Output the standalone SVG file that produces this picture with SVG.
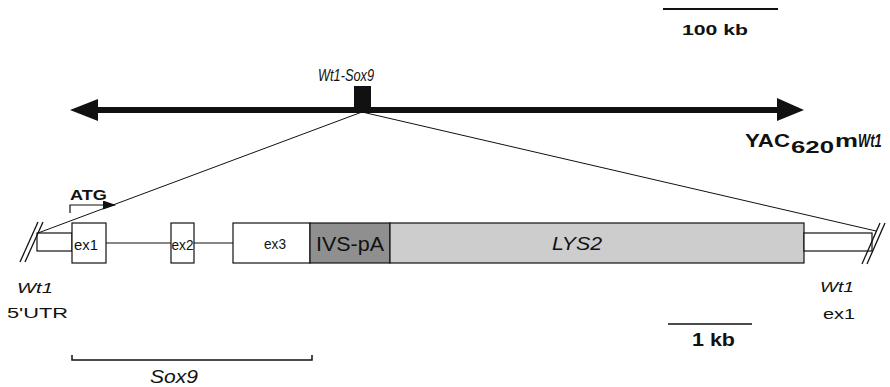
<svg xmlns="http://www.w3.org/2000/svg" width="890" height="387" viewBox="0 0 890 387">
<defs>
<style>
text{font-family:"Liberation Sans",Arial,sans-serif;fill:#111}
.it{font-style:italic}
.b{font-weight:bold}
.ln{stroke:#111;fill:none}
.box{stroke:#111;stroke-width:1.2}
.ex{font-size:15px}
</style>
<marker id="atgHead" markerWidth="13" markerHeight="9" refX="12" refY="4.5" orient="auto" markerUnits="userSpaceOnUse">
<path d="M0,0 L13,4.5 L0,9 Z" fill="#111"/>
</marker>
</defs>
<rect width="890" height="387" fill="#fff"/>

<g id="scale-100kb">
<line class="ln" x1="663" y1="9" x2="778" y2="9" stroke-width="2"/>
<text class="b" x="682" y="35" font-size="15" textLength="66" lengthAdjust="spacingAndGlyphs">100 kb</text>
</g>

<g id="yac">
<line class="ln" x1="96" y1="110" x2="779" y2="110" stroke-width="6"/>
<polygon points="70,110 98,99 98,121" fill="#111"/>
<polygon points="804,110 777,98 777,121" fill="#111"/>
<text class="b" x="745" y="147" font-size="18" textLength="45" lengthAdjust="spacingAndGlyphs">YAC</text>
<text class="b" x="791" y="153" font-size="16" textLength="43" lengthAdjust="spacingAndGlyphs">620</text>
<text class="b" x="835" y="147" font-size="18" textLength="23" lengthAdjust="spacingAndGlyphs">m</text>
<text class="b it" font-size="18" transform="translate(858 147) scale(0.72 1)">Wt1</text>
</g>

<g id="wt1-sox9">
<rect x="354" y="86" width="17" height="25" fill="#111"/>
<text class="it" font-size="16" transform="translate(318 81) scale(0.8 1)">Wt1-Sox9</text>
</g>

<g id="connectors">
<line class="ln" x1="362" y1="112" x2="38" y2="233" stroke-width="1"/>
<line class="ln" x1="362" y1="112" x2="876" y2="231" stroke-width="1"/>
<line class="ln" x1="106" y1="243" x2="171" y2="243" stroke-width="1.2"/>
<line class="ln" x1="194" y1="243" x2="233" y2="243" stroke-width="1.2"/>
<path class="ln" d="M70,213 V205 H115" stroke-width="1.2" marker-end="url(#atgHead)"/>
</g>

<g id="wt1-utr">
<rect class="box" x="37" y="233" width="35" height="18" fill="#fff"/>
<line class="ln" x1="20" y1="262" x2="38" y2="222" stroke-width="1.3"/>
<line class="ln" x1="25" y1="262" x2="43" y2="222" stroke-width="1.3"/>
<text class="it" x="17" y="293" font-size="15" textLength="36" lengthAdjust="spacingAndGlyphs">Wt1</text>
<text x="7" y="318" font-size="15" textLength="61" lengthAdjust="spacingAndGlyphs">5'UTR</text>
</g>

<g id="atg">
<text class="b" x="70" y="200" font-size="14" textLength="37" lengthAdjust="spacingAndGlyphs">ATG</text>
</g>

<g id="ex1">
<rect class="box" x="72" y="223" width="34" height="40" fill="#fff"/>
<text class="ex" x="74" y="250" textLength="24" lengthAdjust="spacingAndGlyphs">ex1</text>
</g>

<g id="ex2">
<rect class="box" x="171" y="223" width="23" height="40" fill="#fff"/>
<text class="ex" x="171.5" y="250" textLength="22" lengthAdjust="spacingAndGlyphs">ex2</text>
</g>

<g id="ex3">
<rect class="box" x="233" y="223" width="77" height="40" fill="#fff"/>
<text class="ex" x="264" y="249" textLength="22" lengthAdjust="spacingAndGlyphs">ex3</text>
</g>

<g id="ivs-pa">
<rect class="box" x="310" y="223" width="80" height="40" fill="#8f8f8f"/>
<text x="316" y="251" font-size="20" textLength="68" lengthAdjust="spacingAndGlyphs">IVS-pA</text>
</g>

<g id="lys2">
<rect class="box" x="390" y="223" width="414" height="40" fill="#cdcdcd"/>
<text class="it" x="552" y="250" font-size="18" textLength="50" lengthAdjust="spacingAndGlyphs">LYS2</text>
</g>

<g id="wt1-ex1">
<rect class="box" x="804" y="233" width="68" height="18" fill="#fff"/>
<line class="ln" x1="862" y1="264" x2="880" y2="223" stroke-width="1.3"/>
<line class="ln" x1="867" y1="264" x2="885" y2="223" stroke-width="1.3"/>
<text class="it" x="820" y="292" font-size="15" textLength="34" lengthAdjust="spacingAndGlyphs">Wt1</text>
<text x="823" y="319" font-size="15" textLength="32" lengthAdjust="spacingAndGlyphs">ex1</text>
</g>

<g id="scale-1kb">
<line class="ln" x1="668" y1="324" x2="752" y2="324" stroke-width="1.5"/>
<text class="b" x="692" y="346" font-size="18" textLength="43" lengthAdjust="spacingAndGlyphs">1 kb</text>
</g>

<g id="sox9">
<path class="ln" d="M72,355 V360 H312 V355" stroke-width="1.5"/>
<text class="it" x="150" y="383" font-size="18" textLength="48" lengthAdjust="spacingAndGlyphs">Sox9</text>
</g>
</svg>
